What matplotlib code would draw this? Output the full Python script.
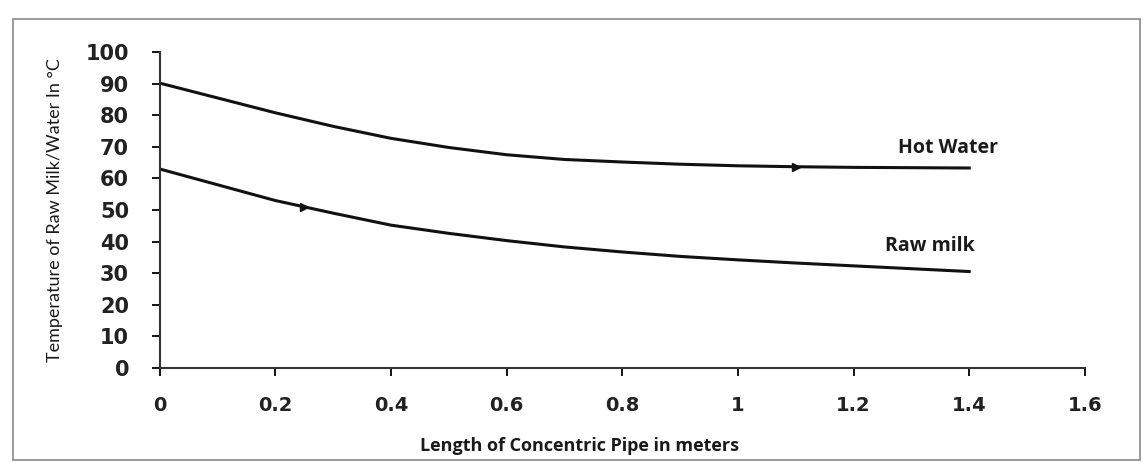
import numpy as np
import matplotlib.pyplot as plt
from matplotlib.patches import Rectangle

length = [0, 0.1, 0.2, 0.3, 0.4, 0.5, 0.6, 0.7, 0.8, 0.9, 1.0, 1.1, 1.2, 1.3, 1.4]
hot_water = [90.2, 85.5, 80.8, 76.5, 72.7, 69.8, 67.5, 66.0, 65.2, 64.5, 64.0, 63.7, 63.5, 63.4, 63.3]
raw_milk = [63.0, 58.0, 53.0, 49.0, 45.2, 42.6, 40.3, 38.3, 36.7, 35.3, 34.2, 33.2, 32.3, 31.4, 30.5]
marker_hot = [1.1]
marker_raw = [0.25]
xtick_vals = [0, 0.2, 0.4, 0.6, 0.8, 1.0, 1.2, 1.4, 1.6]
xtick_labels = ["0", "0.2", "0.4", "0.6", "0.8", "1", "1.2", "1.4", "1.6"]

plt.rcParams['font.family'] = ['Open Sans', 'DejaVu Sans']

fig = plt.figure(figsize=(11.48, 4.74), dpi=100)
ax = fig.add_axes([0.139, 0.224, 0.806, 0.666])

ax.plot(length, hot_water, color="#111111", lw=2.2)
ax.plot(length, raw_milk, color="#111111", lw=2.2)
ax.plot(marker_hot, np.interp(marker_hot, length, hot_water), marker=">", ms=6, color="#111111")
ax.plot(marker_raw, np.interp(marker_raw, length, raw_milk), marker=">", ms=6, color="#111111")

ax.text(1.45, 66.5, "Hot Water", fontsize=14, fontweight="bold", ha="right", va="bottom", color="#1a1a1a")
ax.text(1.41, 35.5, "Raw milk", fontsize=14, fontweight="bold", ha="right", va="bottom", color="#1a1a1a")

ax.set_xlim(0, 1.6)
ax.set_ylim(0, 100)
ax.set_xticks(xtick_vals)
ax.set_xticklabels(xtick_labels)
ax.set_yticks(range(0, 101, 10))

for s in ["top", "right"]:
    ax.spines[s].set_visible(False)
for s in ["left", "bottom"]:
    ax.spines[s].set_color("#333333")
    ax.spines[s].set_linewidth(1.5)

ax.tick_params(axis="y", direction="out", length=6, width=1.3, pad=16, labelsize=15)
ax.tick_params(axis="x", direction="out", length=6, width=1.3, pad=14, labelsize=14)
for lab in ax.get_yticklabels() + ax.get_xticklabels():
    lab.set_fontweight("bold")
    lab.set_color("#222222")
    lab.set_family(["DejaVu Sans"])

ax.set_xlabel("Length of Concentric Pipe in meters", fontsize=13, fontweight="bold", color="#1a1a1a")
ax.xaxis.set_label_coords(0.454, -0.218)
ax.set_ylabel("Temperature of Raw Milk/Water In \u00b0C", fontsize=13, color="#1a1a1a",
              family=["Lato", "DejaVu Sans"])
ax.yaxis.set_label_coords(-0.104, 0.5)

fig.patches.append(Rectangle((0.011, 0.03), 0.982, 0.93, transform=fig.transFigure,
                             fill=False, edgecolor="#888888", lw=1.2))

fig.savefig("out.png")
